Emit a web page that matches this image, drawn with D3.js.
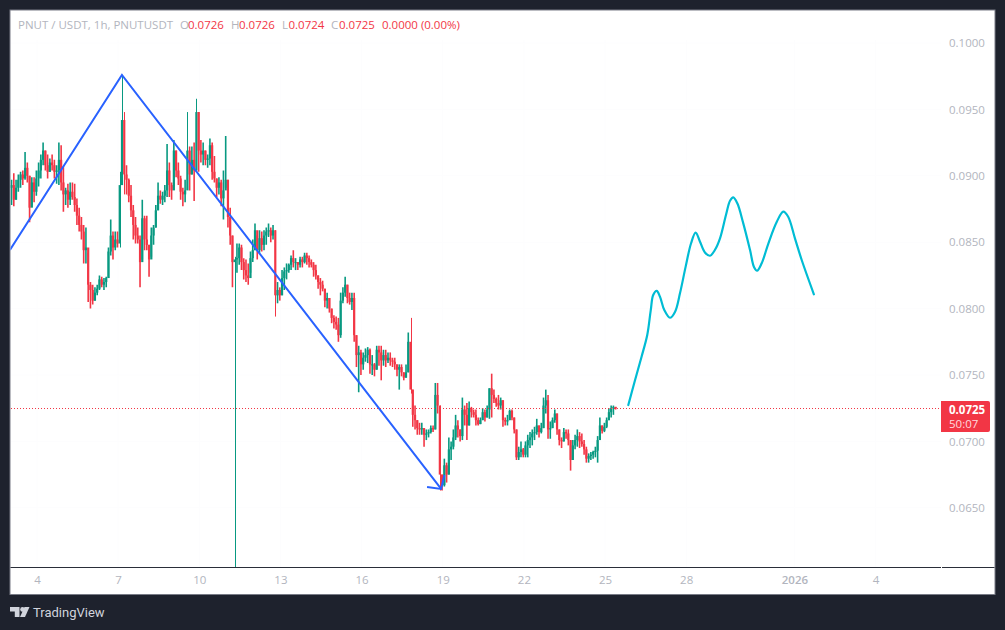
<!DOCTYPE html>
<html>
<head>
<meta charset="utf-8">
<title>PNUT / USDT</title>
<script src="https://cdn.jsdelivr.net/npm/d3@7"></script>
<style>
  html, body { margin: 0; padding: 0; background: #1e222d; overflow: hidden; }
  svg { display: block; }
  text { font-family: "Open Sans", "DejaVu Sans", sans-serif; }
</style>
</head>
<body>
<div id="chart"></div>
<script>
// 2h bars, in price ticks (1 tick = 0.0001)
var highs = [
  897,902,897,901,903,904,918,910,900,899, 899,904,910,916,925,919,916,913,916,912,
  908,925,923,907,891,894,895,895,894,883, 876,869,863,861,842,820,818,816,818,825,
  824,823,824,846,867,858,858,858,903,976, 948,908,898,893,878,869,861,855,882,870,
  870,848,861,863,878,895,889,888,893,924, 910,895,927,919,910,900,891,897,948,922,
  922,925,958,948,927,925,919,916,928,925, 915,898,899,897,904,930,897,876,855,839,
  849,849,848,838,837,834,843,852,864,855, 859,858,859,861,864,861,863,859,820,816,
  829,831,834,834,840,844,838,835,839,839, 842,842,840,837,835,833,825,823,821,815,
  812,808,800,795,794,793,812,816,824,818, 812,812,812,780,772,769,767,770,771,770,
  765,759,772,772,772,769,769,767,767,763, 763,758,758,758,752,758,782,793,739,727,
  716,714,714,710,709,709,712,712,744,744, 727,675,687,684,703,700,709,720,716,709,
  733,727,729,730,726,724,724,718,718,725, 724,727,740,751,739,733,735,733,731,718,
  720,724,724,718,709,696,700,695,700,705, 707,709,711,717,712,714,733,739,735,715,
  718,724,721,709,703,710,709,709,701,701, 705,709,707,706,701,696,691,692,693,696,
  704,718,712,714,718,725,727,727,726
];
var lows = [
  878,877,882,888,891,893,897,895,865,878, 880,885,892,898,908,904,898,903,904,898,
  894,893,889,873,878,876,878,882,873,863, 858,852,834,834,805,800,803,806,810,814,
  816,814,816,823,840,837,844,846,846,906, 886,886,880,869,852,849,849,816,837,844,
  844,824,839,848,861,874,879,878,880,884, 884,882,892,899,893,882,877,880,895,889,
  901,881,904,903,910,908,908,906,908,897, 895,884,886,877,867,891,861,848,816,600,
  827,833,829,822,820,818,827,835,844,837, 842,843,844,848,854,850,852,794,804,806,
  810,814,822,827,829,831,829,829,831,831, 834,833,831,831,824,822,815,810,813,801,
  800,797,789,785,784,775,778,804,809,804, 803,799,775,756,737,750,754,760,759,751,
  750,749,754,757,746,757,756,759,757,756, 754,749,739,749,746,748,752,736,711,709,
  705,705,705,696,701,703,706,707,709,721, 663,663,666,669,675,686,694,701,703,700,
  701,712,701,712,718,718,712,712,713,716, 715,718,717,718,729,726,724,724,711,712,
  712,716,716,706,686,686,688,688,688,688, 695,697,701,705,703,706,710,721,702,702,
  710,714,705,697,695,700,702,697,678,686, 694,696,695,696,690,684,684,686,687,688,
  684,701,706,707,710,716,718,720,724
];
var closes = [
  893,882,891,897,901,898,906,900,876,895, 888,898,904,912,919,908,903,910,908,903,
  904,912,895,886,889,882,888,884,878,870, 863,858,844,846,818,814,806,812,815,822,
  818,820,823,843,855,846,852,849,893,942, 901,897,885,874,863,855,852,835,868,852,
  848,837,855,861,874,885,882,885,889,904, 893,889,919,904,898,888,886,889,919,901,
  912,904,948,919,916,919,912,913,923,903, 898,891,895,883,889,897,869,855,835,837,
  838,846,835,829,825,823,838,844,859,844, 853,848,855,858,859,855,859,810,814,810,
  823,828,829,833,838,835,835,833,837,835, 840,838,835,833,829,825,820,818,815,806,
  808,800,793,790,788,780,806,812,818,808, 805,808,780,765,767,758,763,765,769,758,
  758,754,769,767,761,765,761,763,761,760, 758,754,756,752,748,752,775,739,720,716,
  710,709,710,705,706,707,710,709,735,727, 675,667,682,675,694,696,703,712,709,704,
  724,720,712,725,722,720,716,713,716,722, 718,724,740,735,732,729,727,731,716,715,
  716,723,718,709,688,692,694,690,697,701, 703,706,707,712,707,710,727,731,709,710,
  716,721,709,701,700,707,706,701,686,697, 701,704,700,698,694,687,689,690,692,693,
  701,712,708,711,716,722,725,726,725
];
var firstOpen = 891;

// blue zigzag and its arrow head: [day of December, price]
var zigDays = [3, 7.14, 18.94];
var zigPrices = [0.08441, 0.09759, 0.06642];
var arrowDays = [18.42, 18.94, 19.06];
var arrowPrices = [0.06657, 0.06642, 0.06747];

// hand drawn projection
var waveDays = [25.86,26.11,26.35,26.56,26.69,26.78,26.91,27.03,27.19,27.40,27.59,27.77,27.98,28.18,28.35,28.51,28.70,28.88,
  29.06,29.25,29.47,29.62,29.74,29.89,30.11,30.36,30.51,30.62,30.79,31.04,31.35,31.59,31.77,32.02,32.27,32.72];
var wavePrices = [0.07274,0.07462,0.07638,0.07801,0.07989,0.08102,0.08133,0.08090,0.07989,0.07931,0.07977,0.08115,0.08316,0.08492,0.08572,0.08504,0.08421,0.08398,
  0.08441,0.08529,0.08705,0.08812,0.08838,0.08793,0.08642,0.08441,0.08311,0.08285,0.08341,0.08492,0.08654,0.08730,0.08692,0.08529,0.08366,0.08108];

var dayTicks = [4, 7, 10, 13, 16, 19, 22, 25, 28, 32, 35];
var dayLabels = ["4", "7", "10", "13", "16", "19", "22", "25", "28", "2026", "4"];
var priceTicks = [0.065, 0.07, 0.075, 0.08, 0.085, 0.09, 0.095, 0.1];
var lastPrice = 0.0725;

var headerName = "PNUT / USDT, 1h, PNUTUSDT";
var headerValues = [
  {label: "O", value: "0.0726", x: 180, vx: 188},
  {label: "H", value: "0.0726", x: 231, vx: 239},
  {label: "L", value: "0.0724", x: 282, vx: 288.5},
  {label: "C", value: "0.0725", x: 331, vx: 339}
];
var headerChange = "0.0000 (0.00%)";

var up = "#089981", down = "#f23645", muted = "#b2b5be";
var firstDay = 3.059, tick = 0.0001;
var paneRight = 941, paneBottom = 567.5;

var x = d3.scaleLinear().domain([4, 32]).range([37, 794.4]);
var y = d3.scaleLinear().domain([0.065, 0.1]).range([507.8, 43]);

var svg = d3.select("#chart").append("svg")
  .attr("width", 1005)
  .attr("height", 630);

svg.append("rect")
  .attr("x", 10).attr("y", 10)
  .attr("width", 985).attr("height", 584.5)
  .attr("fill", "#ffffff")
  .attr("stroke", "#787b86")
  .attr("stroke-width", 1);

svg.append("clipPath").attr("id", "pane")
  .append("rect")
  .attr("x", 10.5).attr("y", 10.5)
  .attr("width", paneRight - 10.5).attr("height", paneBottom - 10.5);

// almost invisible grid
svg.append("g").selectAll("line").data(dayTicks).enter().append("line")
  .attr("x1", function(d){ return x(d); })
  .attr("x2", function(d){ return x(d); })
  .attr("y1", 40).attr("y2", paneBottom)
  .attr("stroke", "#fdfdfe");
svg.append("g").selectAll("line").data(priceTicks).enter().append("line")
  .attr("x1", 11).attr("x2", paneRight)
  .attr("y1", function(d){ return y(d); })
  .attr("y2", function(d){ return y(d); })
  .attr("stroke", "#fdfdfe");

var plot = svg.append("g").attr("clip-path", "url(#pane)");

var bars = closes.map(function(c, i){
  return {
    day: firstDay + i / 12,
    open: (i ? closes[i - 1] : firstOpen) * tick,
    high: highs[i] * tick,
    low: lows[i] * tick,
    close: c * tick
  };
});

function barColor(d){ return d.close >= d.open ? up : down; }
function isLongWick(d){ return d.high - d.low > 0.005; }
function wickX(d){ return isLongWick(d) ? Math.round(x(d.day)) + 0.5 : x(d.day); }

plot.append("g").selectAll("line").data(bars).enter().append("line")
  .attr("x1", wickX)
  .attr("x2", wickX)
  .attr("y1", function(d){ return y(d.high); })
  .attr("y2", function(d){ return y(d.low); })
  .attr("stroke", barColor)
  .attr("stroke-width", function(d){ return isLongWick(d) ? 1 : 1.6; });

plot.append("g").selectAll("rect").data(bars).enter().append("rect")
  .attr("x", function(d){ return x(d.day) - 1.1; })
  .attr("y", function(d){ return y(Math.max(d.open, d.close)); })
  .attr("width", 2.2)
  .attr("height", function(d){ return Math.max(1, Math.abs(y(d.open) - y(d.close))); })
  .attr("fill", barColor);

// last price line
svg.append("line")
  .attr("x1", 11).attr("x2", paneRight)
  .attr("y1", Math.round(y(lastPrice)) + 0.5)
  .attr("y2", Math.round(y(lastPrice)) + 0.5)
  .attr("stroke", down)
  .attr("stroke-width", 1)
  .attr("stroke-dasharray", "1 2");

var line = d3.line()
  .x(function(d){ return x(d[0]); })
  .y(function(d){ return y(d[1]); });

plot.append("path")
  .attr("d", line(d3.zip(zigDays, zigPrices)))
  .attr("fill", "none")
  .attr("stroke", "#2962ff")
  .attr("stroke-width", 2);

plot.append("path")
  .attr("d", line(d3.zip(arrowDays, arrowPrices)))
  .attr("fill", "none")
  .attr("stroke", "#2962ff")
  .attr("stroke-width", 2);

plot.append("path")
  .attr("d", line.curve(d3.curveCatmullRom)(d3.zip(waveDays, wavePrices)))
  .attr("fill", "none")
  .attr("stroke", "#00bcd4")
  .attr("stroke-width", 2.2)
  .attr("stroke-linecap", "round");

// axes
var xAxis = d3.axisBottom(x)
  .tickValues(dayTicks)
  .tickSize(0)
  .tickPadding(0)
  .tickFormat(function(d, i){ return dayLabels[i]; });

var xg = svg.append("g")
  .attr("transform", "translate(0," + 584 + ")")
  .call(xAxis);
xg.select(".domain").remove();
xg.selectAll("text")
  .attr("y", 0)
  .attr("dy", 0)
  .attr("fill", muted)
  .style("font-size", "11.5px")
  .style("font-weight", function(d, i){ return dayLabels[i] === "2026" ? 600 : 400; });

var yAxis = d3.axisRight(y)
  .tickValues(priceTicks)
  .tickSize(0)
  .tickPadding(0)
  .tickFormat(d3.format(".4f"));

var yg = svg.append("g")
  .attr("transform", "translate(" + 949 + ",0)")
  .call(yAxis);
yg.select(".domain").remove();
yg.selectAll("text")
  .attr("fill", muted)
  .style("font-size", "11.5px");

// pane separator
svg.append("line")
  .attr("x1", 10.5).attr("x2", 994.5)
  .attr("y1", paneBottom).attr("y2", paneBottom)
  .attr("stroke", "#2a2e39")
  .attr("stroke-width", 1);
svg.append("line")
  .attr("x1", paneRight).attr("x2", paneRight + 1)
  .attr("y1", paneBottom).attr("y2", paneBottom)
  .attr("stroke", "#ffffff");

// last price tag
svg.append("path")
  .attr("d", "M941 401H988a2 2 0 0 1 2 2V430a2 2 0 0 1 -2 2H941Z")
  .attr("fill", down);
svg.append("text")
  .attr("x", 949).attr("y", 413.5)
  .attr("fill", "#ffffff")
  .style("font-size", "11.5px")
  .style("font-weight", 700)
  .text(d3.format(".4f")(lastPrice));
svg.append("text")
  .attr("x", 949).attr("y", 428)
  .attr("fill", "#ffd9dd")
  .style("font-size", "11.5px")
  .text("50:07");

// legend line
var header = svg.append("g").style("font-size", "11.5px");
header.append("text")
  .attr("x", 18).attr("y", 29)
  .attr("fill", muted)
  .text(headerName);
headerValues.forEach(function(h){
  header.append("text").attr("x", h.x).attr("y", 29).attr("fill", muted).text(h.label);
  header.append("text").attr("x", h.vx).attr("y", 29).attr("fill", down).text(h.value);
});
header.append("text")
  .attr("x", 382).attr("y", 29)
  .attr("fill", down)
  .text(headerChange);

// footer logo
var logo = svg.append("g").attr("fill", "#d1d4dc");
logo.append("path").attr("d", "M10 607H19.5V617H14.8V611.5H10Z");
logo.append("circle").attr("cx", 22.5).attr("cy", 609.4).attr("r", 2.3);
logo.append("path").attr("d", "M24.5 607H29.5L25 617H20Z");
svg.append("text")
  .attr("x", 33).attr("y", 617)
  .attr("fill", "#d1d4dc")
  .style("font-family", "Roboto")
  .style("font-size", "13px")
  .text("TradingView");
</script>
</body>
</html>
